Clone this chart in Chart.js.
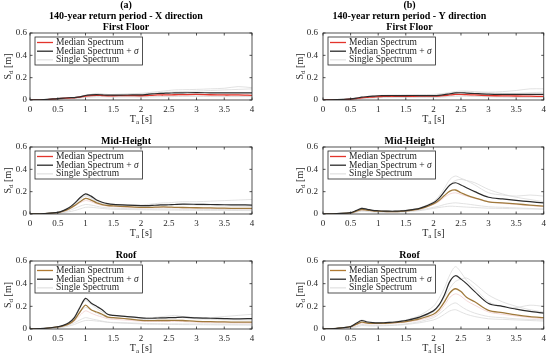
<!DOCTYPE html>
<html>
<head>
<meta charset="utf-8">
<script src="https://cdn.jsdelivr.net/npm/chart.js@4/dist/chart.umd.min.js"></script>
<style>
  body { margin: 0; background: #fff; width: 550px; height: 357px; position: relative; overflow: hidden; }
  canvas { position: absolute; }
</style>
</head>
<body>
<script>
"use strict";

// periods T_a [s] shared by every curve
const periods = [0, 0.25, 0.5, 0.6, 0.7, 0.8, 0.9, 1.0, 1.1, 1.2, 1.3, 1.4, 1.5, 1.75, 2.0, 2.1, 2.2, 2.3, 2.4, 2.5, 2.6, 2.75, 3.0, 3.25, 3.5, 3.75, 4.0];
const xTicks = [0, 0.5, 1, 1.5, 2, 2.5, 3, 3.5, 4];
const yTicks = [0, 0.2, 0.4, 0.6];

const columnHeadings = [
  ["(a)", "140-year return period - X direction"],
  ["(b)", "140-year return period - Y direction"],
];
const rowTitles = ["First Floor", "Mid-Height", "Roof"];

const legendLabels = ["Median Spectrum", "Median Spectrum + ", "Single Spectrum"];

// ---- X direction ----
const firstFloorX_median = [0, 0.003, 0.012, 0.015, 0.018, 0.02, 0.025, 0.035, 0.04, 0.042, 0.04, 0.038, 0.038, 0.04, 0.038, 0.04, 0.042, 0.045, 0.045, 0.046, 0.047, 0.048, 0.05, 0.047, 0.045, 0.045, 0.042];
const firstFloorX_sigma = [0, 0.004, 0.013, 0.016, 0.02, 0.022, 0.028, 0.04, 0.046, 0.049, 0.046, 0.043, 0.043, 0.045, 0.046, 0.05, 0.055, 0.058, 0.06, 0.062, 0.063, 0.064, 0.066, 0.064, 0.063, 0.063, 0.063];
const firstFloorX_singles = [
  [0, 0.004, 0.015, 0.018, 0.02, 0.022, 0.03, 0.045, 0.05, 0.055, 0.05, 0.048, 0.05, 0.055, 0.06, 0.065, 0.07, 0.075, 0.08, 0.085, 0.09, 0.092, 0.095, 0.1, 0.105, 0.12, 0.11],
  [0, 0.002, 0.01, 0.012, 0.015, 0.017, 0.02, 0.028, 0.032, 0.033, 0.032, 0.03, 0.03, 0.032, 0.03, 0.03, 0.032, 0.033, 0.034, 0.035, 0.035, 0.036, 0.036, 0.035, 0.034, 0.033, 0.032],
  [0, 0.003, 0.012, 0.016, 0.02, 0.024, 0.03, 0.04, 0.05, 0.06, 0.055, 0.05, 0.046, 0.05, 0.055, 0.058, 0.06, 0.065, 0.068, 0.07, 0.072, 0.075, 0.08, 0.085, 0.09, 0.095, 0.1],
  [0, 0.002, 0.008, 0.01, 0.012, 0.014, 0.018, 0.022, 0.025, 0.027, 0.028, 0.027, 0.026, 0.027, 0.026, 0.026, 0.027, 0.028, 0.03, 0.03, 0.031, 0.032, 0.032, 0.031, 0.03, 0.03, 0.03],
];
const firstFloorX_nearMedian = [0, 0.003, 0.011, 0.014, 0.017, 0.019, 0.024, 0.033, 0.038, 0.04, 0.038, 0.037, 0.037, 0.038, 0.037, 0.039, 0.041, 0.043, 0.044, 0.044, 0.045, 0.046, 0.047, 0.045, 0.043, 0.042, 0.04];

const midHeightX_median = [0, 0.003, 0.012, 0.025, 0.045, 0.075, 0.11, 0.14, 0.125, 0.1, 0.085, 0.076, 0.072, 0.066, 0.06, 0.06, 0.06, 0.062, 0.063, 0.062, 0.06, 0.058, 0.056, 0.054, 0.052, 0.05, 0.05];
const midHeightX_sigma = [0, 0.004, 0.014, 0.03, 0.055, 0.095, 0.145, 0.18, 0.16, 0.125, 0.105, 0.093, 0.087, 0.08, 0.075, 0.075, 0.077, 0.08, 0.082, 0.083, 0.085, 0.088, 0.087, 0.085, 0.083, 0.082, 0.08];
const midHeightX_singles = [
  [0, 0.004, 0.015, 0.03, 0.05, 0.09, 0.14, 0.17, 0.15, 0.12, 0.1, 0.09, 0.085, 0.082, 0.08, 0.085, 0.09, 0.095, 0.1, 0.1, 0.105, 0.11, 0.11, 0.115, 0.12, 0.125, 0.13],
  [0, 0.002, 0.008, 0.015, 0.03, 0.05, 0.07, 0.085, 0.08, 0.07, 0.06, 0.055, 0.052, 0.048, 0.045, 0.044, 0.044, 0.045, 0.045, 0.045, 0.044, 0.043, 0.042, 0.04, 0.04, 0.038, 0.038],
  [0, 0.003, 0.013, 0.028, 0.05, 0.085, 0.13, 0.16, 0.14, 0.11, 0.095, 0.085, 0.08, 0.075, 0.07, 0.07, 0.072, 0.075, 0.078, 0.08, 0.082, 0.085, 0.08, 0.075, 0.072, 0.07, 0.068],
  [0, 0.002, 0.006, 0.012, 0.02, 0.03, 0.045, 0.06, 0.06, 0.055, 0.05, 0.045, 0.042, 0.04, 0.038, 0.037, 0.037, 0.036, 0.036, 0.035, 0.035, 0.034, 0.033, 0.032, 0.032, 0.031, 0.03],
];
const midHeightX_nearMedian = [0, 0.003, 0.011, 0.022, 0.04, 0.07, 0.1, 0.12, 0.11, 0.09, 0.078, 0.07, 0.066, 0.06, 0.055, 0.055, 0.056, 0.057, 0.058, 0.058, 0.056, 0.054, 0.052, 0.05, 0.048, 0.047, 0.046];

const roofX_median = [0, 0.004, 0.018, 0.028, 0.045, 0.08, 0.15, 0.21, 0.17, 0.15, 0.13, 0.105, 0.1, 0.09, 0.077, 0.074, 0.074, 0.075, 0.075, 0.075, 0.076, 0.075, 0.068, 0.065, 0.062, 0.06, 0.06];
const roofX_sigma = [0, 0.005, 0.02, 0.032, 0.055, 0.1, 0.19, 0.27, 0.23, 0.2, 0.17, 0.13, 0.12, 0.11, 0.098, 0.095, 0.095, 0.097, 0.098, 0.1, 0.1, 0.104, 0.098, 0.095, 0.092, 0.09, 0.092];
const roofX_singles = [
  [0, 0.005, 0.02, 0.035, 0.06, 0.11, 0.2, 0.25, 0.22, 0.18, 0.15, 0.13, 0.12, 0.11, 0.1, 0.1, 0.1, 0.105, 0.11, 0.115, 0.12, 0.11, 0.1, 0.1, 0.11, 0.12, 0.13],
  [0, 0.003, 0.012, 0.02, 0.035, 0.055, 0.08, 0.1, 0.09, 0.08, 0.07, 0.06, 0.058, 0.055, 0.05, 0.048, 0.048, 0.047, 0.047, 0.046, 0.046, 0.045, 0.045, 0.044, 0.043, 0.042, 0.042],
  [0, 0.004, 0.018, 0.03, 0.05, 0.09, 0.15, 0.19, 0.17, 0.14, 0.12, 0.1, 0.095, 0.09, 0.085, 0.085, 0.088, 0.09, 0.095, 0.1, 0.105, 0.1, 0.09, 0.085, 0.082, 0.08, 0.08],
  [0, 0.003, 0.01, 0.016, 0.026, 0.04, 0.06, 0.075, 0.075, 0.07, 0.065, 0.06, 0.055, 0.05, 0.045, 0.043, 0.042, 0.042, 0.041, 0.04, 0.04, 0.039, 0.038, 0.037, 0.036, 0.035, 0.034],
];
const roofX_nearMedian = [0, 0.004, 0.016, 0.026, 0.042, 0.07, 0.12, 0.16, 0.14, 0.12, 0.105, 0.09, 0.085, 0.078, 0.068, 0.066, 0.066, 0.066, 0.066, 0.066, 0.067, 0.066, 0.06, 0.057, 0.055, 0.053, 0.052];

// ---- Y direction ----
const firstFloorY_median = [0, 0.002, 0.008, 0.013, 0.02, 0.024, 0.027, 0.03, 0.032, 0.033, 0.033, 0.032, 0.033, 0.034, 0.035, 0.036, 0.04, 0.045, 0.05, 0.05, 0.048, 0.045, 0.04, 0.037, 0.036, 0.034, 0.032];
const firstFloorY_sigma = [0, 0.003, 0.01, 0.016, 0.025, 0.03, 0.034, 0.038, 0.039, 0.04, 0.04, 0.039, 0.04, 0.04, 0.04, 0.042, 0.048, 0.056, 0.063, 0.065, 0.062, 0.058, 0.052, 0.05, 0.05, 0.05, 0.05];
const firstFloorY_singles = [
  [0, 0.003, 0.01, 0.016, 0.025, 0.03, 0.035, 0.04, 0.042, 0.044, 0.045, 0.045, 0.046, 0.048, 0.05, 0.055, 0.06, 0.068, 0.075, 0.08, 0.08, 0.075, 0.07, 0.075, 0.085, 0.1, 0.1],
  [0, 0.002, 0.007, 0.01, 0.015, 0.018, 0.02, 0.022, 0.023, 0.024, 0.024, 0.024, 0.025, 0.025, 0.026, 0.027, 0.03, 0.033, 0.036, 0.037, 0.036, 0.034, 0.03, 0.028, 0.026, 0.025, 0.024],
  [0, 0.003, 0.01, 0.015, 0.022, 0.028, 0.032, 0.036, 0.038, 0.04, 0.04, 0.04, 0.042, 0.042, 0.045, 0.048, 0.055, 0.06, 0.065, 0.07, 0.072, 0.07, 0.065, 0.06, 0.06, 0.065, 0.07],
  [0, 0.002, 0.006, 0.009, 0.013, 0.016, 0.019, 0.021, 0.022, 0.022, 0.023, 0.023, 0.023, 0.024, 0.024, 0.025, 0.027, 0.03, 0.032, 0.034, 0.034, 0.032, 0.029, 0.027, 0.025, 0.024, 0.023],
];
const firstFloorY_nearMedian = [0, 0.002, 0.008, 0.012, 0.018, 0.022, 0.026, 0.029, 0.031, 0.032, 0.032, 0.031, 0.032, 0.033, 0.034, 0.035, 0.039, 0.044, 0.048, 0.049, 0.047, 0.044, 0.039, 0.036, 0.035, 0.033, 0.031];

const midHeightY_median = [0, 0.003, 0.01, 0.025, 0.04, 0.035, 0.028, 0.025, 0.023, 0.022, 0.022, 0.024, 0.028, 0.045, 0.09, 0.12, 0.165, 0.205, 0.215, 0.19, 0.17, 0.145, 0.108, 0.1, 0.09, 0.08, 0.07];
const midHeightY_sigma = [0, 0.004, 0.012, 0.03, 0.05, 0.042, 0.033, 0.029, 0.026, 0.025, 0.025, 0.027, 0.031, 0.05, 0.1, 0.14, 0.2, 0.26, 0.28, 0.26, 0.235, 0.2, 0.15, 0.135, 0.122, 0.11, 0.1];
const midHeightY_singles = [
  [0, 0.004, 0.012, 0.03, 0.055, 0.045, 0.035, 0.03, 0.028, 0.027, 0.027, 0.03, 0.035, 0.055, 0.11, 0.16, 0.23, 0.31, 0.34, 0.32, 0.3, 0.26, 0.19, 0.17, 0.16, 0.17, 0.16],
  [0, 0.002, 0.008, 0.018, 0.03, 0.028, 0.022, 0.02, 0.019, 0.018, 0.018, 0.02, 0.022, 0.035, 0.06, 0.07, 0.085, 0.095, 0.1, 0.095, 0.09, 0.08, 0.065, 0.06, 0.055, 0.05, 0.045],
  [0, 0.003, 0.011, 0.027, 0.045, 0.04, 0.032, 0.028, 0.026, 0.025, 0.025, 0.027, 0.031, 0.05, 0.1, 0.14, 0.2, 0.26, 0.3, 0.31, 0.3, 0.28, 0.22, 0.18, 0.15, 0.13, 0.11],
  [0, 0.002, 0.007, 0.015, 0.025, 0.022, 0.018, 0.017, 0.016, 0.016, 0.016, 0.017, 0.02, 0.03, 0.05, 0.058, 0.065, 0.07, 0.068, 0.065, 0.062, 0.058, 0.052, 0.05, 0.047, 0.045, 0.042],
];
const midHeightY_nearMedian = [0, 0.003, 0.009, 0.022, 0.036, 0.032, 0.026, 0.023, 0.021, 0.02, 0.02, 0.022, 0.026, 0.042, 0.085, 0.11, 0.15, 0.18, 0.19, 0.175, 0.16, 0.14, 0.11, 0.095, 0.085, 0.075, 0.065];

const roofY_median = [0, 0.005, 0.02, 0.04, 0.06, 0.052, 0.05, 0.05, 0.05, 0.053, 0.056, 0.06, 0.065, 0.09, 0.13, 0.17, 0.24, 0.32, 0.355, 0.33, 0.28, 0.24, 0.165, 0.145, 0.125, 0.11, 0.1];
const roofY_sigma = [0, 0.006, 0.022, 0.05, 0.075, 0.062, 0.056, 0.054, 0.055, 0.058, 0.062, 0.068, 0.075, 0.105, 0.16, 0.21, 0.3, 0.42, 0.47, 0.44, 0.4, 0.33, 0.225, 0.2, 0.175, 0.155, 0.14];
const roofY_singles = [
  [0, 0.006, 0.025, 0.05, 0.08, 0.065, 0.058, 0.056, 0.057, 0.06, 0.065, 0.072, 0.08, 0.12, 0.2, 0.27, 0.36, 0.48, 0.55, 0.5, 0.43, 0.36, 0.24, 0.2, 0.19, 0.21, 0.2],
  [0, 0.003, 0.012, 0.025, 0.04, 0.035, 0.032, 0.032, 0.033, 0.034, 0.036, 0.04, 0.045, 0.065, 0.1, 0.13, 0.17, 0.21, 0.23, 0.2, 0.17, 0.14, 0.11, 0.1, 0.09, 0.085, 0.08],
  [0, 0.005, 0.02, 0.04, 0.065, 0.055, 0.05, 0.05, 0.05, 0.053, 0.057, 0.062, 0.068, 0.095, 0.15, 0.2, 0.28, 0.36, 0.42, 0.44, 0.45, 0.4, 0.3, 0.24, 0.2, 0.17, 0.15],
  [0, 0.002, 0.008, 0.018, 0.03, 0.028, 0.026, 0.027, 0.028, 0.03, 0.032, 0.035, 0.04, 0.055, 0.08, 0.1, 0.13, 0.16, 0.17, 0.15, 0.13, 0.11, 0.09, 0.085, 0.08, 0.075, 0.07],
];
const roofY_nearMedian = [0, 0.004, 0.017, 0.035, 0.052, 0.046, 0.044, 0.045, 0.046, 0.048, 0.051, 0.055, 0.06, 0.08, 0.115, 0.15, 0.21, 0.28, 0.31, 0.29, 0.25, 0.21, 0.15, 0.13, 0.115, 0.1, 0.09];

const SERIF = "'Liberation Serif', 'DejaVu Serif', serif";
const TEXT = "#262626";
const GRAY = "#dadada";
const PINK = "#f3cfcf";
const SIGMA = "#2b2b2b";

// canvas geometry per column / row
const columns = [
  { left: 0, width: 275, axisWidth: 30, padRight: 23, yTitleX: 8 },
  { left: 275, width: 275, axisWidth: 48, padRight: 6, yTitleX: 25 },
];
const rows = [
  { top: 0, height: 126, titlePadTop: 0, xAxisHeight: 26, medianColor: "#e3342b", legendMedian: "#e3342b" },
  { top: 126, height: 114, titlePadTop: 10, xAxisHeight: 26, medianColor: "#a07a3c", legendMedian: "#e3342b" },
  { top: 240, height: 117, titlePadTop: 10, xAxisHeight: 28, medianColor: "#a07a3c", legendMedian: "#b07a32" },
];

const panelData = [
  [
    [firstFloorX_median, firstFloorX_sigma, firstFloorX_singles, firstFloorX_nearMedian],
    [midHeightX_median, midHeightX_sigma, midHeightX_singles, midHeightX_nearMedian],
    [roofX_median, roofX_sigma, roofX_singles, roofX_nearMedian],
  ],
  [
    [firstFloorY_median, firstFloorY_sigma, firstFloorY_singles, firstFloorY_nearMedian],
    [midHeightY_median, midHeightY_sigma, midHeightY_singles, midHeightY_nearMedian],
    [roofY_median, roofY_sigma, roofY_singles, roofY_nearMedian],
  ],
];

const toPoints = (values) => values.map((y, i) => ({ x: periods[i], y }));

/** draw "main" + subscript + rest centred at (cx, cy) */
const drawSubText = (ctx, main, sub, rest, cx, cy) => {
  const big = `10px ${SERIF}`;
  const small = `7px ${SERIF}`;
  ctx.font = big;
  const w1 = ctx.measureText(main).width;
  const w3 = ctx.measureText(rest).width;
  ctx.font = small;
  const w2 = ctx.measureText(sub).width;
  let x = cx - (w1 + w2 + w3) / 2;
  ctx.textAlign = "left";
  ctx.textBaseline = "middle";
  ctx.font = big;
  ctx.fillText(main, x, cy);
  x += w1;
  ctx.font = small;
  ctx.fillText(sub, x, cy + 3);
  x += w2;
  ctx.font = big;
  ctx.fillText(rest, x, cy);
};

const panelDecor = {
  id: "panelDecor",
  afterDraw(chart, _args, opts) {
    const { ctx, chartArea: a, scales } = chart;
    const line = (x0, y0, x1, y1) => {
      ctx.beginPath();
      ctx.moveTo(x0, y0);
      ctx.lineTo(x1, y1);
      ctx.stroke();
    };
    ctx.save();

    // box and inward ticks
    ctx.strokeStyle = TEXT;
    ctx.lineWidth = 0.8;
    ctx.strokeRect(a.left, a.top, a.width, a.height);
    xTicks.forEach((v) => {
      const px = scales.x.getPixelForValue(v);
      line(px, a.bottom, px, a.bottom - 2.5);
      line(px, a.top, px, a.top + 2.5);
    });
    yTicks.forEach((v) => {
      const py = scales.y.getPixelForValue(v);
      line(a.left, py, a.left + 2.5, py);
      line(a.right, py, a.right - 2.5, py);
    });

    // legend box sized to its text
    const legendFont = `9.5px ${SERIF}`;
    const sigmaFont = `italic 9.5px ${SERIF}`;
    ctx.font = legendFont;
    const widths = legendLabels.map((label) => ctx.measureText(label).width);
    ctx.font = sigmaFont;
    widths[1] += ctx.measureText("\u03c3").width;
    const bx = a.left + 5;
    const by = a.top + 4;
    const bw = 21 + Math.max(...widths) + 4;
    const bh = 28;
    ctx.fillStyle = "#fff";
    ctx.fillRect(bx, by, bw, bh);
    ctx.lineWidth = 0.8;
    ctx.strokeStyle = TEXT;
    ctx.strokeRect(bx, by, bw, bh);
    const legendColors = [opts.legendMedian, SIGMA, GRAY];
    const legendWidths = [1.3, 1.3, 1];
    legendLabels.forEach((label, i) => {
      const ly = by + 5.5 + i * 8.7;
      ctx.strokeStyle = legendColors[i];
      ctx.lineWidth = legendWidths[i];
      line(bx + 2, ly, bx + 18, ly);
      ctx.fillStyle = TEXT;
      ctx.font = legendFont;
      ctx.textAlign = "left";
      ctx.textBaseline = "middle";
      ctx.fillText(label, bx + 21, ly);
      if (i === 1) {
        const w = ctx.measureText(label).width;
        ctx.font = sigmaFont;
        ctx.fillText("\u03c3", bx + 21 + w, ly);
      }
    });

    // axis titles
    ctx.fillStyle = TEXT;
    drawSubText(ctx, "T", "a", " [s]", (a.left + a.right) / 2, a.bottom + 19);
    ctx.translate(opts.yTitleX, (a.top + a.bottom) / 2);
    ctx.rotate(-Math.PI / 2);
    drawSubText(ctx, "S", "d", " [m]", 0, 0);
    ctx.restore();
  },
};

const makePanel = (col, row) => {
  const c = columns[col];
  const r = rows[row];
  const [median, sigma, singles, nearMedian] = panelData[col][row];

  const canvas = document.createElement("canvas");
  canvas.style.left = `${c.left}px`;
  canvas.style.top = `${r.top}px`;
  canvas.style.width = `${c.width}px`;
  canvas.style.height = `${r.height}px`;
  canvas.width = c.width;
  canvas.height = r.height;
  document.body.appendChild(canvas);

  const titleText = row === 0 ? [...columnHeadings[col], rowTitles[row]] : [rowTitles[row]];

  const datasets = [
    { data: toPoints(sigma), borderColor: SIGMA, borderWidth: 1.2 },
    { data: toPoints(median), borderColor: r.medianColor, borderWidth: 1.3 },
    { data: toPoints(nearMedian), borderColor: PINK, borderWidth: 0.8 },
    ...singles.map((s) => ({ data: toPoints(s), borderColor: GRAY, borderWidth: 0.8 })),
  ].map((d) => ({ ...d, pointRadius: 0, tension: 0.3, fill: false }));

  new Chart(canvas, {
    type: "line",
    data: { datasets },
    options: {
      responsive: false,
      animation: false,
      events: [],
      layout: { padding: { left: 0, right: c.padRight, top: 0, bottom: 0 } },
      plugins: {
        legend: { display: false },
        tooltip: { enabled: false },
        title: {
          display: true,
          text: titleText,
          color: "#000",
          font: { family: SERIF, size: 10, weight: "bold", lineHeight: 1.1 },
          padding: { top: r.titlePadTop, bottom: 0 },
        },
        panelDecor: { legendMedian: r.legendMedian, yTitleX: c.yTitleX },
      },
      scales: {
        x: {
          type: "linear",
          min: 0,
          max: 4,
          grid: { display: false, drawTicks: false },
          border: { display: false },
          afterBuildTicks: (scale) => {
            scale.ticks = xTicks.map((value) => ({ value }));
          },
          afterFit: (scale) => {
            scale.height = r.xAxisHeight;
          },
          ticks: {
            padding: 4,
            maxRotation: 0,
            color: TEXT,
            font: { family: SERIF, size: 9 },
            callback: (v) => String(v),
          },
        },
        y: {
          min: 0,
          max: 0.6,
          grid: { display: false, drawTicks: false },
          border: { display: false },
          afterBuildTicks: (scale) => {
            scale.ticks = yTicks.map((value) => ({ value }));
          },
          afterFit: (scale) => {
            scale.width = c.axisWidth;
          },
          ticks: {
            padding: col === 0 ? 3 : 5,
            color: TEXT,
            font: { family: SERIF, size: 9 },
            callback: (v) => String(v),
          },
        },
      },
    },
    plugins: [panelDecor],
  });
};

[0, 1].forEach((col) => [0, 1, 2].forEach((row) => makePanel(col, row)));
</script>
</body>
</html>
